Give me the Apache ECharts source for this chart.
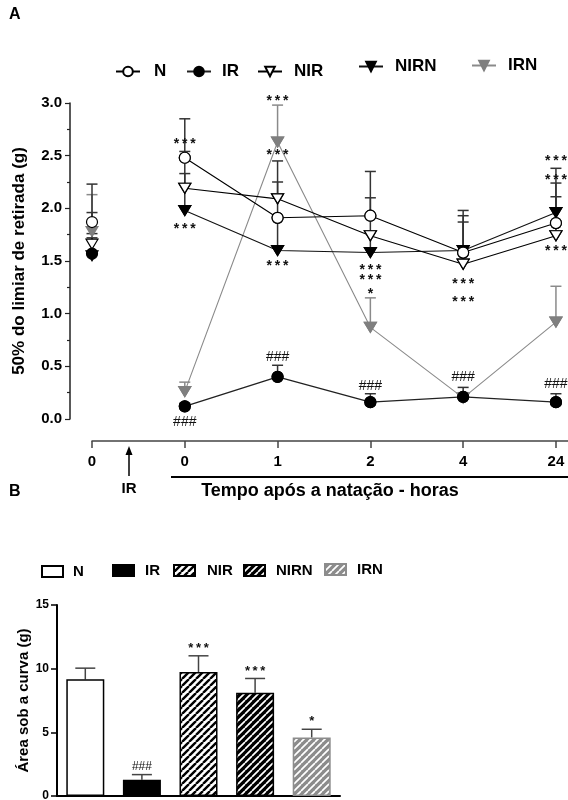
<!DOCTYPE html>
<html><head><meta charset="utf-8">
<script src="https://cdn.jsdelivr.net/npm/echarts@6/dist/echarts.min.js"></script>
<style>html,body{margin:0;padding:0;background:#fff}#c{width:568px;height:800px}</style>
</head><body><div id="c"></div>
<script>
// ---------- Panel A data ----------
const timeLabels = ['0', '0', '1', '2', '4', '24'];
const groupNames = ['N', 'IR', 'NIR', 'NIRN', 'IRN'];
const N_mean    = [1.87, 2.48, 1.91, 1.93, 1.58, 1.86];
const IR_mean   = [1.57, 0.12, 0.40, 0.16, 0.21, 0.16];
const NIR_mean  = [1.66, 2.19, 2.09, 1.74, 1.47, 1.74];
const NIRN_mean = [1.55, 1.98, 1.60, 1.58, 1.60, 1.96];
const IRN_mean  = [1.78, 0.26, 2.63, 0.87, 0.20, 0.92];
const N_err    = [0.36, 0.37, 0.34, 0.42, 0.40, 0.38];
const IR_err   = [0.15, 0.03, 0.11, 0.08, 0.09, 0.08];
const NIR_err  = [0.30, 0.14, 0.36, 0.36, 0.46, 0.37];
const NIRN_err = [0.21, 0.56, 0.30, 0.20, 0.27, 0.42];
const IRN_err  = [0.35, 0.09, 0.35, 0.28, 0.05, 0.34];
// significance marks of panel A: [time index, value level, text]
const sigA_x    = [1, 1, 1, 2, 2, 2, 2, 3, 3, 3, 3, 4, 4, 4, 5, 5, 5, 5];
const sigA_y    = [2.65, 1.84, -0.03, 3.06, 2.54, 1.49, 0.59, 1.45, 1.36, 1.22, 0.31, 1.32, 1.15, 0.40, 2.49, 2.31, 1.63, 0.33];
const sigA_text = ['***', '***', '###', '***', '***', '***', '###', '***', '***', '*', '###', '***', '***', '###', '***', '***', '***', '###'];

// ---------- Panel B data ----------
const aucNames = ['N', 'IR', 'NIR', 'NIRN', 'IRN'];
const aucMean  = [9.16, 1.28, 9.73, 8.10, 4.59];
const aucErr   = [0.88, 0.40, 1.28, 1.13, 0.65];
const aucSig   = ['', '###', '***', '***', '*'];

const FONT = '"Liberation Sans", Arial, sans-serif';

function stripe(bg, fg, lw, size) {
  const c = document.createElement('canvas');
  c.width = c.height = size;
  const g = c.getContext('2d');
  g.fillStyle = bg; g.fillRect(0, 0, size, size);
  g.strokeStyle = fg; g.lineWidth = lw; g.beginPath();
  for (let k = -1; k <= 1; k++) { g.moveTo(k * size, size); g.lineTo(k * size + size, 0); }
  g.stroke();
  return { image: c, repeat: 'repeat' };
}

const seriesStyle = {
  N:    { symbol: 'circle', size: 11, rot: 0, fill: '#fff', stroke: '#000', line: '#000', err: '#333' },
  IR:   { symbol: 'circle', size: 11, rot: 0, fill: '#000', stroke: '#000', line: '#222', err: '#333' },
  NIR:  { symbol: 'triangle', size: [12, 10], rot: 180, fill: '#fff', stroke: '#000', line: '#000', err: '#333' },
  NIRN: { symbol: 'triangle', size: [12, 10], rot: 180, fill: '#000', stroke: '#000', line: '#111', err: '#333' },
  IRN:  { symbol: 'triangle', size: [12, 10], rot: 180, fill: '#7f7f7f', stroke: '#7f7f7f', line: '#8a8a8a', err: '#8a8a8a' }
};
const means = { N: N_mean, IR: IR_mean, NIR: NIR_mean, NIRN: NIRN_mean, IRN: IRN_mean };
const errs  = { N: N_err, IR: IR_err, NIR: NIR_err, NIRN: NIRN_err, IRN: IRN_err };
const drawOrder = ['IRN', 'NIRN', 'NIR', 'IR', 'N'];

function errRender(color, capW) {
  return function (params, api) {
    const x = api.value(0), v = api.value(1), e = api.value(2);
    const p0 = api.coord([x, v]), p1 = api.coord([x, v + e]);
    return { type: 'group', children: [
      { type: 'line', shape: { x1: p0[0], y1: p0[1], x2: p1[0], y2: p1[1] }, style: { stroke: color, lineWidth: 1.5 } },
      { type: 'line', shape: { x1: p1[0] - capW / 2, y1: p1[1], x2: p1[0] + capW / 2, y2: p1[1] }, style: { stroke: color, lineWidth: 1.5 } }
    ] };
  };
}

const series = [];
drawOrder.forEach(n => {
  const s = seriesStyle[n];
  series.push({
    name: n, type: 'line', xAxisIndex: 0, yAxisIndex: 0, z: 2,
    data: means[n].map((v, i) => [i, v]).slice(1),
    symbol: s.symbol, symbolSize: s.size, symbolRotate: s.rot, showSymbol: true,
    lineStyle: { color: s.line, width: n === 'IR' ? 1.4 : 1.1 },
    itemStyle: { color: s.fill, borderColor: s.stroke, borderWidth: 1.2 },
    emphasis: { disabled: true }, animation: false
  });
});
drawOrder.forEach(n => {
  const s = seriesStyle[n];
  series.push({
    name: n + ' err', type: 'custom', xAxisIndex: 0, yAxisIndex: 0, z: 1,
    encode: { x: 0, y: 1 },
    data: means[n].map((v, i) => [i, v, errs[n][i]]),
    renderItem: errRender(s.err, 11), animation: false, silent: true
  });
});
drawOrder.forEach(n => {
  const s = seriesStyle[n];
  series.push({
    name: n, type: 'scatter', xAxisIndex: 0, yAxisIndex: 0, z: 3,
    data: means[n].map((v, i) => [i, v]),
    symbol: s.symbol, symbolSize: s.size, symbolRotate: s.rot,
    itemStyle: { color: s.fill, borderColor: s.stroke, borderWidth: 1.2, opacity: 1 },
    emphasis: { disabled: true }, animation: false, silent: true
  });
});
series.push({
  name: 'sigA', type: 'custom', xAxisIndex: 0, yAxisIndex: 0, z: 4, silent: true,
  encode: { x: 0, y: 1 },
  data: sigA_x.map((x, i) => [x, sigA_y[i]]),
  renderItem: function (params, api) {
    const t = sigA_text[params.dataIndex];
    const p = api.coord([api.value(0), api.value(1)]);
    const star = t.indexOf('*') >= 0;
    return { type: 'text', x: p[0], y: p[1] + (star ? 4 : 0), style: {
      text: star ? t.split('').join('\u2009') : t, fill: '#111',
      font: (star ? 'bold 14px ' : '14px ') + FONT, align: 'center', verticalAlign: 'middle' } };
  }, animation: false
});

// ---------- Panel B series ----------
const aucStyles = [
  { color: '#fff', border: '#000' },
  { color: '#000', border: '#000' },
  { color: stripe('#fff', '#000', 2.4, 7), border: '#000' },
  { color: stripe('#000', '#fff', 1.7, 7), border: '#000' },
  { color: stripe('#8c8c8c', '#fff', 1.7, 7), border: '#8c8c8c' }
];
aucNames.forEach((n, k) => {
  series.push({
    name: n + ' ', type: 'bar', xAxisIndex: 1, yAxisIndex: 1, z: 2,
    data: aucMean.map((v, i) => (i === k ? v : '-')),
    barWidth: 38, barGap: '-100%',
    itemStyle: { color: aucStyles[k].color, borderColor: aucStyles[k].border, borderWidth: 1.5 },
    emphasis: { disabled: true }, animation: false
  });
});
series.push({
  name: 'aucErr', type: 'custom', xAxisIndex: 1, yAxisIndex: 1, z: 1, silent: true,
  encode: { x: 0, y: 1 },
  data: aucMean.map((v, i) => [i, v, aucErr[i]]),
  renderItem: errRender('#444', 20), animation: false
});
series.push({
  name: 'aucSig', type: 'custom', xAxisIndex: 1, yAxisIndex: 1, z: 4, silent: true,
  encode: { x: 0, y: 1 },
  data: aucMean.map((v, i) => [i, v + aucErr[i]]),
  renderItem: function (params, api) {
    const t = aucSig[params.dataIndex];
    const p = api.coord([api.value(0), api.value(1)]);
    const star = t.indexOf('*') >= 0;
    return { type: 'text', x: p[0], y: p[1] - (star ? 1 : 2), style: {
      text: star ? t.split('').join('\u2009') : t, fill: '#111',
      font: (star ? 'bold 13px ' : '12px ') + FONT, align: 'center', verticalAlign: 'bottom' } };
  }, animation: false
});

function legendA(name, left, top, pad) {
  return { data: [name], left: left, top: top, padding: 0, orient: 'horizontal', selectedMode: false,
    itemWidth: 24, itemHeight: 12,
    textStyle: { fontFamily: FONT, fontWeight: 'bold', fontSize: 17, color: '#000', padding: [0, 0, 0, pad] } };
}
function legendB(name, left, top, pad) {
  return { data: [name + ' '], left: left, top: top, padding: 0, selectedMode: false, icon: 'rect',
    itemWidth: 21, itemHeight: 11, formatter: n => n.trim(),
    textStyle: { fontFamily: FONT, fontWeight: 'bold', fontSize: 15, color: '#000', padding: [0, 0, 0, pad] } };
}

const axisTxt = { fontFamily: FONT, fontWeight: 'bold', color: '#000' };

const option = {
  backgroundColor: '#fff',
  animation: false,
  legend: [
    legendA('N', 115, 63, 9), legendA('IR', 186, 63, 6), legendA('NIR', 257, 63, 7),
    legendA('NIRN', 358, 58, 7), legendA('IRN', 471, 57, 7),
    legendB('N', 41, 564, 5), legendB('IR', 112, 563, 6), legendB('NIR', 173, 563, 7),
    legendB('NIRN', 243, 563, 6), legendB('IRN', 324, 562, 6)
  ],
  grid: [
    { left: 92, right: 0, top: 103, height: 316, containLabel: false, outerBoundsMode: 'none' },
    { left: 57, width: 283, top: 605, height: 191, containLabel: false, outerBoundsMode: 'none' }
  ],
  xAxis: [
    { type: 'value', gridIndex: 0, min: 0, max: 5.13, offset: 22,
      axisLine: { show: true, onZero: false, lineStyle: { color: '#444', width: 1.5 } },
      axisTick: { show: true, length: 7, inside: false, customValues: [0, 1, 2, 3, 4, 5], lineStyle: { color: '#444', width: 1.5 } },
      axisLabel: { show: true, customValues: [0, 1, 2, 3, 4, 5], margin: 13, fontSize: 15, ...axisTxt,
        formatter: v => timeLabels[Math.round(v)] },
      splitLine: { show: false },
      name: 'Tempo após a natação - horas', nameLocation: 'middle', nameGap: 41,
      nameTextStyle: { fontFamily: FONT, fontWeight: 'bold', fontSize: 18, color: '#000' } },
    { type: 'category', gridIndex: 1, data: aucNames,
      axisLine: { show: true, onZero: false, lineStyle: { color: '#000', width: 2 } },
      axisTick: { show: false }, axisLabel: { show: false }, splitLine: { show: false } }
  ],
  yAxis: [
    { type: 'value', gridIndex: 0, min: 0, max: 3, interval: 0.5, offset: 22,
      axisLine: { show: true, onZero: false, lineStyle: { color: '#222', width: 1.5 } },
      axisTick: { show: true, length: 5, lineStyle: { color: '#222', width: 1.2 } },
      minorTick: { show: true, splitNumber: 2, length: 3, lineStyle: { color: '#222', width: 1.2 } },
      axisLabel: { margin: 8, fontSize: 15, ...axisTxt, formatter: v => v.toFixed(1) },
      splitLine: { show: false },
      name: '50% do limiar de retirada (g)', nameLocation: 'middle', nameGap: 42,
      nameTextStyle: { fontFamily: FONT, fontWeight: 'bold', fontSize: 17, color: '#000' } },
    { type: 'value', gridIndex: 1, min: 0, max: 15, interval: 5,
      axisLine: { show: true, onZero: false, lineStyle: { color: '#000', width: 2 } },
      axisTick: { show: true, length: 6, lineStyle: { color: '#000', width: 1.5 } },
      axisLabel: { margin: 8, fontSize: 12, ...axisTxt },
      splitLine: { show: false },
      name: 'Área sob a curva (g)', nameLocation: 'middle', nameGap: 20,
      nameTextStyle: { fontFamily: FONT, fontWeight: 'bold', fontSize: 15, color: '#000' } }
  ],
  graphic: [
    { type: 'text', left: 9, top: 7, style: { text: 'A', font: 'bold 16px ' + FONT, fill: '#000' } },
    { type: 'text', left: 9, top: 484, style: { text: 'B', font: 'bold 16px ' + FONT, fill: '#000' } },
    { type: 'line', shape: { x1: 129, y1: 476, x2: 129, y2: 452 }, style: { stroke: '#000', lineWidth: 1.5 } },
    { type: 'polygon', shape: { points: [[129, 446], [125.5, 455], [132.5, 455]] }, style: { fill: '#000' } },
    { type: 'text', x: 129, y: 489, style: { text: 'IR', font: 'bold 15px ' + FONT, fill: '#000', align: 'center', verticalAlign: 'middle' } },
    { type: 'line', shape: { x1: 171, y1: 477, x2: 568, y2: 477 }, style: { stroke: '#000', lineWidth: 2.2 } }
  ],
  series: series
};

const chart = echarts.init(document.getElementById('c'), null, { renderer: 'canvas' });
chart.setOption(option);
</script>
</body></html>
